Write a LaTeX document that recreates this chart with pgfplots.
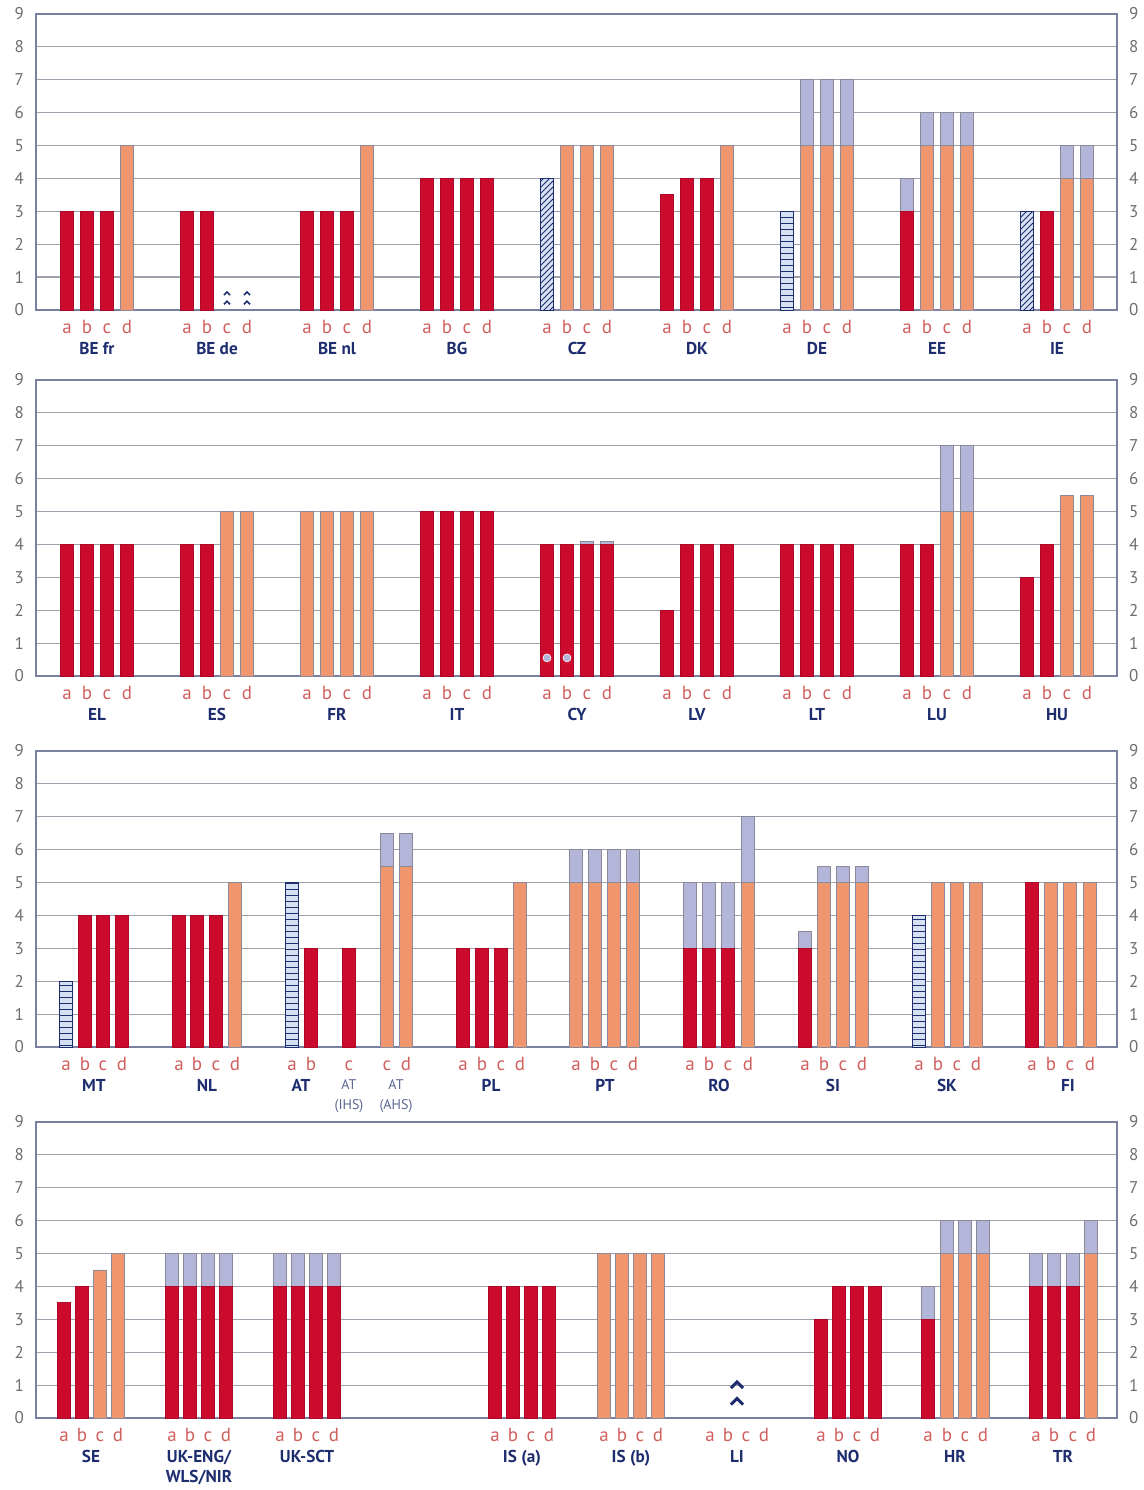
\documentclass[border=0pt]{standalone}
\usepackage{fontspec}
\setmainfont{PT Sans}
\usepackage{pgfplots}
\pgfplotsset{compat=1.18}
\usetikzlibrary{patterns}

\definecolor{cred}{HTML}{CC0A2E}
\definecolor{corange}{HTML}{F0966E}
\definecolor{clav}{HTML}{B3B5D9}
\definecolor{chbg}{HTML}{D5E0F2}
\definecolor{cnavy}{HTML}{1E2D6E}
\definecolor{caxis}{HTML}{7A80A0}
\definecolor{cgrid}{HTML}{A0A0AC}
\definecolor{cletter}{HTML}{D0605E}
\definecolor{ctick}{HTML}{6E6E6E}
\definecolor{cedge}{HTML}{8A8A9A}
\definecolor{cihs}{HTML}{5A6590}

\newcommand\ihs{\mdseries\fontsize{7}{8}\selectfont\color{cihs}}

\pgfdeclareplotmark{chev}{%
  \pgfpathmoveto{\pgfpoint{-\pgfplotmarksize}{-0.5\pgfplotmarksize}}%
  \pgfpathlineto{\pgfpoint{0pt}{0.5\pgfplotmarksize}}%
  \pgfpathlineto{\pgfpoint{\pgfplotmarksize}{-0.5\pgfplotmarksize}}%
  \pgfusepathqstroke}

\pgfplotsset{
  panel/.style={
    anchor=south west, scale only axis, width=540.5pt, height=148pt,
    xmin=36, xmax=1117, ymin=0, ymax=9, ytick={0,...,9},
    ymajorgrids, grid style={cgrid, line width=0.6pt},
    axis line style={caxis, line width=0.8pt},
    major tick length=0pt,
    /pgf/number format/assume math mode=true,
    yticklabel style={font=\fontsize{8.5}{10}\selectfont, text=ctick, xshift=-2.5pt},
    xticklabel style={font=\fontsize{9.5}{10}\selectfont, text=cletter, text height=1.55ex, text depth=0pt, yshift=-0.5pt},
    extra x tick style={xticklabel style={font=\fontsize{8.6}{10}\selectfont\bfseries, text=cnavy, text height=, text depth=, yshift=-12.2pt, align=center}},
    clip=false,
  },
  rlab/.style={
    anchor=south west, scale only axis, width=540.5pt, height=148pt,
    xmin=0, xmax=1, ymin=0, ymax=9, ytick={0,...,9},
    hide x axis, axis y line*=right, y axis line style={draw=none},
    major tick length=0pt,
    /pgf/number format/assume math mode=true,
    yticklabel style={font=\fontsize{8.5}{10}\selectfont, text=ctick, xshift=2.5pt},
  },
  bbase/.style={ybar, bar width=13, bar shift=0pt, line width=0.4pt},
  rb/.style={bbase, fill=cred, draw=cred!85!black},
  ob/.style={bbase, fill=corange, draw=cedge},
  lb/.style={bbase, fill=clav, draw=cedge},
  hd/.style={bbase, fill=chbg, draw=cnavy, postaction={pattern=north east lines, pattern color=cnavy}},
  hh/.style={bbase, fill=chbg, draw=cnavy, postaction={pattern=horizontal lines, pattern color=cnavy}},
}

\newcommand\rightlabels[1]{%
  \begin{axis}[rlab, at={(18pt,#1)}]
    \addplot[draw=none] coordinates {(0,0)};
  \end{axis}}

\begin{document}
\begin{tikzpicture}
\useasboundingbox (0,0) rectangle (572pt,745pt);

% ---------------- Panel 1 ----------------
\begin{axis}[panel, at={(18pt,590pt)},
  xtick={67,87,107,127,187,207,227,247,307,327,347,367,427,447,467,487,547,567,587,607,667,687,707,727,787,807,827,847,907,927,947,967,1027,1047,1067,1087},
  xticklabels={a,b,c,d,a,b,c,d,a,b,c,d,a,b,c,d,a,b,c,d,a,b,c,d,a,b,c,d,a,b,c,d,a,b,c,d},
  extra x ticks={97,217,337,457,577,697,817,937,1057},
  extra x tick labels={BE fr,BE de,BE nl,BG,CZ,DK,DE,EE,IE}]
\addplot[lb] coordinates {(807,7)(827,7)(847,7)(907,4)(927,6)(947,6)(967,6)(1067,5)(1087,5)};
\addplot[rb] coordinates {(67,3)(87,3)(107,3)(187,3)(207,3)(307,3)(327,3)(347,3)(427,4)(447,4)(467,4)(487,4)(667,3.5)(687,4)(707,4)(907,3)(1047,3)};
\addplot[ob] coordinates {(127,5)(367,5)(567,5)(587,5)(607,5)(727,5)(807,5)(827,5)(847,5)(927,5)(947,5)(967,5)(1067,4)(1087,4)};
\addplot[hd] coordinates {(547,4)(1027,3)};
\addplot[hh] coordinates {(787,3)};
\addplot[only marks, mark=chev, mark size=1.5pt, mark options={draw=cnavy, solid, line width=0.8pt}] coordinates {(227,0.5)(227,0.22)(247,0.5)(247,0.22)};
\end{axis}
\rightlabels{590pt}

% ---------------- Panel 2 ----------------
\begin{axis}[panel, at={(18pt,407pt)},
  xtick={67,87,107,127,187,207,227,247,307,327,347,367,427,447,467,487,547,567,587,607,667,687,707,727,787,807,827,847,907,927,947,967,1027,1047,1067,1087},
  xticklabels={a,b,c,d,a,b,c,d,a,b,c,d,a,b,c,d,a,b,c,d,a,b,c,d,a,b,c,d,a,b,c,d,a,b,c,d},
  extra x ticks={97,217,337,457,577,697,817,937,1057},
  extra x tick labels={EL,ES,FR,IT,CY,LV,LT,LU,HU}]
\addplot[lb] coordinates {(587,4.1)(607,4.1)(947,7)(967,7)};
\addplot[rb] coordinates {(67,4)(87,4)(107,4)(127,4)(187,4)(207,4)(427,5)(447,5)(467,5)(487,5)(547,4)(567,4)(587,4)(607,4)(667,2)(687,4)(707,4)(727,4)(787,4)(807,4)(827,4)(847,4)(907,4)(927,4)(1027,3)(1047,4)};
\addplot[ob] coordinates {(227,5)(247,5)(307,5)(327,5)(347,5)(367,5)(947,5)(967,5)(1067,5.5)(1087,5.5)};
\addplot[only marks, mark=*, mark size=2pt, mark options={fill=clav, draw=white, line width=0.3pt}] coordinates {(547,0.55)(567,0.55)};
\end{axis}
\rightlabels{407pt}

% ---------------- Panel 3 ----------------
\begin{axis}[panel, at={(18pt,221.5pt)},
  xtick={66,85,103,122,179,197,216,235,292,311,349,387,406,463,482,501,520,576,595,614,633,690,709,728,748,805,824,843,862,919,938,957,976,1032,1051,1070,1090},
  xticklabels={a,b,c,d,a,b,c,d,a,b,c,c,d,a,b,c,d,a,b,c,d,a,b,c,d,a,b,c,d,a,b,c,d,a,b,c,d},
  extra x ticks={94,207,301,349,396,491,605,719,833,947,1068},
  extra x tick labels={MT,NL,AT,{\ihs AT\\\ihs (IHS)},{\ihs AT\\\ihs (AHS)},PL,PT,RO,SI,SK,FI}]
\addplot[lb] coordinates {(387,6.5)(406,6.5)(576,6)(595,6)(614,6)(633,6)(690,5)(709,5)(728,5)(748,7)(805,3.5)(824,5.5)(843,5.5)(862,5.5)};
\addplot[rb] coordinates {(85,4)(103,4)(122,4)(179,4)(197,4)(216,4)(311,3)(349,3)(463,3)(482,3)(501,3)(690,3)(709,3)(728,3)(805,3)(1032,5)};
\addplot[ob] coordinates {(235,5)(387,5.5)(406,5.5)(520,5)(576,5)(595,5)(614,5)(633,5)(748,5)(824,5)(843,5)(862,5)(938,5)(957,5)(976,5)(1051,5)(1070,5)(1090,5)};
\addplot[hh] coordinates {(66,2)(292,5)(919,4)};
\end{axis}
\rightlabels{221.5pt}

% ---------------- Panel 4 ----------------
\begin{axis}[panel, at={(18pt,36pt)},
  xtick={64,82,100,118,172,190,208,226,280,298,316,334,495,513,531,549,604,622,640,658,710,728,746,764,821,839,857,875,928,947,965,983,1036,1054,1073,1091},
  xticklabels={a,b,c,d,a,b,c,d,a,b,c,d,a,b,c,d,a,b,c,d,a,b,c,d,a,b,c,d,a,b,c,d,a,b,c,d},
  extra x ticks={91,199,307,522,631,737,848,955,1063},
  extra x tick labels={SE,{UK-ENG/\\WLS/NIR},UK-SCT,IS (a),IS (b),LI,NO,HR,TR}]
\addplot[lb] coordinates {(172,5)(190,5)(208,5)(226,5)(280,5)(298,5)(316,5)(334,5)(928,4)(947,6)(965,6)(983,6)(1036,5)(1054,5)(1073,5)(1091,6)};
\addplot[rb] coordinates {(64,3.5)(82,4)(172,4)(190,4)(208,4)(226,4)(280,4)(298,4)(316,4)(334,4)(495,4)(513,4)(531,4)(549,4)(821,3)(839,4)(857,4)(875,4)(928,3)(1036,4)(1054,4)(1073,4)};
\addplot[ob] coordinates {(100,4.5)(118,5)(604,5)(622,5)(640,5)(658,5)(947,5)(965,5)(983,5)(1091,5)};
\addplot[only marks, mark=chev, mark size=3pt, mark options={draw=cnavy, solid, line width=1.5pt}] coordinates {(737,1.0)(737,0.5)};
\end{axis}
\rightlabels{36pt}

\end{tikzpicture}
\end{document}
